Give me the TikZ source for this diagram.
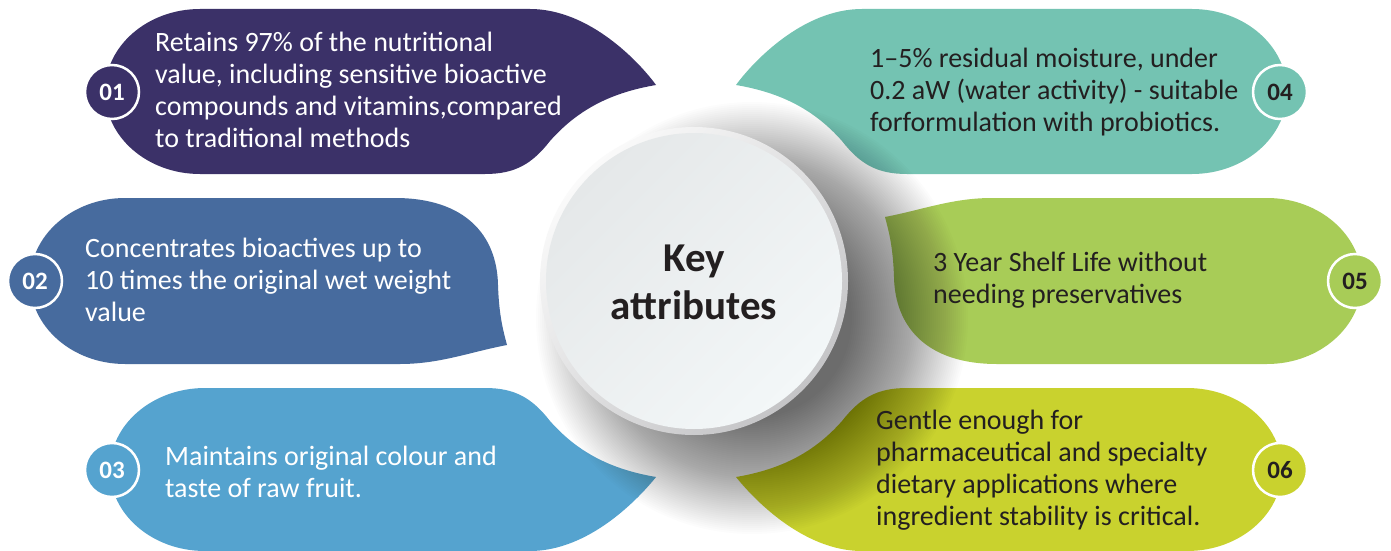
\documentclass[tikz,border=0pt]{standalone}
\usepackage{fontspec}
\setmainfont{Carlito}
\definecolor{c1}{HTML}{3B3168}
\definecolor{c2}{HTML}{476B9E}
\definecolor{c3}{HTML}{55A3CF}
\definecolor{c4}{HTML}{74C3B2}
\definecolor{c5}{HTML}{A8CC57}
\definecolor{c6}{HTML}{C9D22E}
\definecolor{ink}{HTML}{231F20}
\definecolor{ringlo}{HTML}{C4C4C6}
\definecolor{ringhi}{HTML}{FAFAFA}
\definecolor{facehi}{HTML}{E5E8E9}
\definecolor{facelo}{HTML}{F3F7F8}
\tikzset{
  numcirc/.style={circle, draw=white, line width=2.5pt, minimum size=54pt, inner sep=0pt,
    font=\fontsize{25}{25}\selectfont\bfseries},
  bodytext/.style={anchor=west, align=left, inner sep=0pt, font=\fontsize{28}{32}\selectfont},
}
\def\shpOne{(200,9) -- (530,9) .. controls (590,9) and (640,63) .. (656,85)
  .. controls (615,92) and (580,107) .. (550,141) .. controls (532,164) and (515,174) .. (485,174)
  -- (200,174) .. controls (147.5,174) and (105,137.1) .. (105,91.5)
  .. controls (105,45.9) and (147.5,9) .. (200,9) -- cycle}
\def\shpTwo{(125,198) -- (395,198) .. controls (465,198) and (497,235) .. (498,285)
  .. controls (499,315) and (503,330) .. (507,345) .. controls (470,352) and (440,364) .. (400,364)
  -- (125,364) .. controls (72.5,364) and (30,326.8) .. (30,281)
  .. controls (30,235.2) and (72.5,198) .. (125,198) -- cycle}
\def\shpThree{(205,388) -- (485,388) .. controls (515,388) and (532,398) .. (550,421)
  .. controls (580,455) and (615,470) .. (656,477) .. controls (640,497) and (590,551) .. (530,551)
  -- (205,551) .. controls (152.5,551) and (110,514.5) .. (110,469.5)
  .. controls (110,424.5) and (152.5,388) .. (205,388) -- cycle}
\begin{document}
\begin{tikzpicture}[x=1pt,y=-1pt]
\useasboundingbox (0,0) rectangle (1391,551);
\fill[white] (0,0) rectangle (1391,551);
% left shapes
\fill[c1] \shpOne;
\fill[c2] \shpTwo;
\fill[c3] \shpThree;
% right shapes (mirrored)
\begin{scope}[shift={(1392,0)}, xscale=-1]
  \fill[c4] \shpOne;
  \fill[c6] \shpThree;
\end{scope}
\begin{scope}[shift={(1392,562)}, scale=-1]
  \fill[c5] \shpTwo;
\end{scope}
% soft shadow of the centre disc
\foreach \r in {100,102,...,216}
  \fill[black, opacity=0.012] (752,318) circle[radius=\r pt];
% centre disc
\shade[top color=ringhi, bottom color=ringlo, shading angle=45] (694,281) circle[radius=154pt];
\shade[top color=facehi, bottom color=facelo, shading angle=45] (694,281) circle[radius=148pt];
\node[font=\fontsize{41}{48}\selectfont\bfseries, text=ink, align=center] (title) at (694,282) {Key\\attributes};
% number badges
\node[numcirc, fill=c1, text=white] (n1) at (112,92) {01};
\node[numcirc, fill=c2, text=white] (n2) at (35,281) {02};
\node[numcirc, fill=c3, text=white] (n3) at (112,470) {03};
\node[numcirc, fill=c4, text=ink] (n4) at (1280,92) {04};
\node[numcirc, fill=c5, text=ink] (n5) at (1355,281) {05};
\node[numcirc, fill=c6, text=ink] (n6) at (1280,470) {06};
% texts
\node[bodytext, text=white] (t1) at (155,90) {Retains 97\% of the nutritional\\value, including sensitive bioactive\\compounds and vitamins,compared\\to traditional methods};
\node[bodytext, text=white] (t2) at (85,280) {Concentrates bioactives up to\\10 times the original wet weight\\value};
\node[bodytext, text=white] (t3) at (165,472) {Maintains original colour and\\taste of raw fruit.};
\node[bodytext, text=ink] (t4) at (870,92) {1–5\% residual moisture, under\\0.2 aW (water activity) - suitable\\forformulation with probiotics.};
\node[bodytext, text=ink] (t5) at (933,280) {3 Year Shelf Life without\\needing preservatives};
\node[bodytext, text=ink] (t6) at (876,470) {Gentle enough for\\pharmaceutical and specialty\\dietary applications where\\ingredient stability is critical.};
\end{tikzpicture}
\end{document}
